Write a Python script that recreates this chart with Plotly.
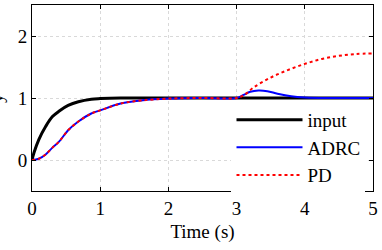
import plotly.graph_objects as go

# input reference signal
t_in = [0, 0.03, 0.1, 0.2, 0.3, 0.4, 0.53, 0.68, 0.87, 1.0, 1.3, 1.6, 2.0, 3.0, 4.0, 5.0]
y_in = [0, 0.12, 0.33, 0.54, 0.70, 0.79, 0.88, 0.94, 0.98, 0.99, 1.0, 1.0, 1.0, 1.0, 1.0, 1.0]

# shared response before disturbance (t < 3)
t_rise = [0, 0.1, 0.2, 0.3, 0.4, 0.53, 0.68, 0.87, 1.0, 1.3, 1.6, 2.0, 2.5, 3.0]
y_rise = [0, 0.02, 0.09, 0.20, 0.30, 0.48, 0.62, 0.75, 0.80, 0.91, 0.96, 0.99, 1.0, 1.0]

# ADRC after disturbance
t_adrc_d = [3.1, 3.2, 3.32, 3.45, 3.6, 3.8, 4.0, 4.3, 4.7, 5.0]
y_adrc_d = [1.05, 1.10, 1.12, 1.11, 1.07, 1.03, 1.01, 1.0, 1.0, 1.0]

# PD after disturbance
t_pd_d = [3.1, 3.25, 3.5, 3.75, 4.0, 4.25, 4.5, 4.75, 5.0]
y_pd_d = [1.04, 1.17, 1.33, 1.45, 1.55, 1.63, 1.68, 1.71, 1.72]

x_ticks = [0, 1, 2, 3, 4, 5]
y_ticks = [0, 1, 2]

FONT = "Times New Roman, Liberation Serif, DejaVu Serif, serif"

fig = go.Figure()
fig.add_trace(go.Scatter(x=t_in, y=y_in, mode="lines", name="input",
                         line=dict(color="black", width=3, shape="spline")))
fig.add_trace(go.Scatter(x=t_rise + t_adrc_d, y=y_rise + y_adrc_d, mode="lines", name="ADRC",
                         line=dict(color="#0000ff", width=2, shape="spline")))
fig.add_trace(go.Scatter(x=t_rise + t_pd_d, y=y_rise + y_pd_d, mode="lines", name="PD",
                         line=dict(color="#ff0000", width=2, dash="dot", shape="spline")))

fig.update_layout(
    width=382, height=250,
    margin=dict(l=31.5, r=4, t=4, b=59),
    paper_bgcolor="white", plot_bgcolor="white",
    font=dict(family=FONT, size=19, color="black"),
    showlegend=True,
    legend=dict(x=0.978, y=0.485, xanchor="right", yanchor="top",
                bgcolor="white", borderwidth=0, itemwidth=66,
                tracegroupgap=0, font=dict(family=FONT, size=19)),
    xaxis=dict(range=[0, 5], tickvals=x_ticks, showgrid=True, gridcolor="#d9d9d9",
               griddash="dot", gridwidth=1, zeroline=False, showline=True,
               linecolor="black", linewidth=1, mirror="ticks", ticks="inside",
               ticklen=4, tickcolor="black", ticklabeloverflow="allow",
               title=dict(text="Time (s)", standoff=6, font=dict(family=FONT, size=19))),
    yaxis=dict(range=[-0.5, 2.5], tickvals=y_ticks, showgrid=True, gridcolor="#d9d9d9",
               griddash="dot", gridwidth=1, zeroline=False, showline=True,
               linecolor="black", linewidth=1, mirror="ticks", ticks="inside",
               ticklen=4, tickcolor="black"),
    annotations=[dict(text="y", xref="paper", yref="paper", x=0, y=0.5,
                      xanchor="center", yanchor="middle", xshift=-36, textangle=-90,
                      showarrow=False, font=dict(family=FONT, size=19))],
)

fig.write_html("out.html")
